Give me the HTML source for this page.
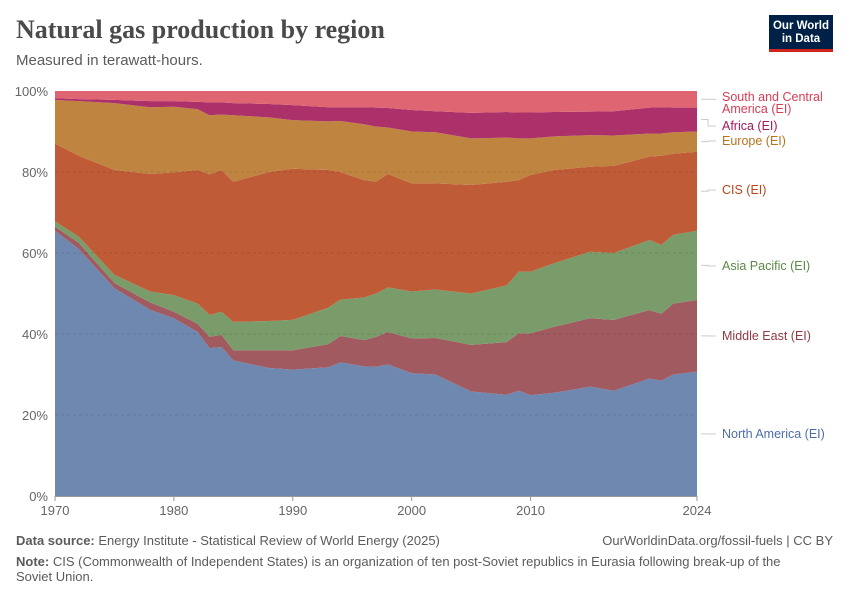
<!DOCTYPE html>
<html><head><meta charset="utf-8">
<style>
body{margin:0;background:#fff;font-family:"Liberation Sans",sans-serif;}
#wrap{position:relative;width:850px;height:600px;overflow:hidden;}
.t{position:absolute;white-space:nowrap;}
</style></head><body>
<div id="wrap">
<div class="t" style="left:16px;top:15px;font-family:'Liberation Serif',serif;font-size:26px;font-weight:bold;color:#4a4a4a;">Natural gas production by region</div>
<div class="t" style="left:16px;top:52px;font-size:15px;color:#5b5b5b;">Measured in terawatt-hours.</div>
<div style="position:absolute;left:769px;top:15px;width:64px;height:37px;background:#002147;border-bottom:3px solid #ce261e;box-sizing:border-box;color:#fff;font-size:11.5px;font-weight:bold;text-align:center;line-height:13px;padding-top:5px;">Our World<br>in Data</div>
<svg id="chart" width="850" height="600" style="position:absolute;left:0;top:0"></svg>
<div class="t" style="left:16px;top:533px;font-size:13px;color:#5b5b5b;"><b>Data source:</b> Energy Institute - Statistical Review of World Energy (2025)</div>
<div class="t" style="right:17px;top:533px;font-size:13px;color:#5b5b5b;">OurWorldinData.org/fossil-fuels | CC BY</div>
<div class="t" style="left:16px;top:554px;font-size:13px;color:#5b5b5b;white-space:normal;width:800px;line-height:15px;"><b>Note:</b> CIS (Commonwealth of Independent States) is an organization of ten post-Soviet republics in Eurasia following break-up of the Soviet Union.</div>
</div>
<script>
const years=[1970,1972,1975,1978,1980,1982,1983,1984,1985,1988,1990,1993,1994,1996,1997,1998,2000,2002,2005,2008,2009,2010,2012,2015,2017,2020,2021,2022,2024];
const northAmerica=[65.5,61,51.3,46,43.9,40.5,36.5,36.8,33.5,31.6,31.2,31.8,33,32,31.9,32.5,30.3,30,25.8,25,26,24.9,25.5,27,26,29,28.5,30,30.7];
const middleEast=[1.0,1.5,1.3,1.8,1.6,2.0,2.8,3.0,2.5,4.4,4.8,5.7,6.5,6.5,7.4,8,8.6,9,11.5,13,14.2,15.3,16.3,16.9,17.5,16.9,16.5,17.5,17.7];
const asiaPacific=[1.3,1.5,2.0,2.7,4.1,5.0,5.4,5.7,7.0,7.2,7.5,9.0,9.0,10.5,10.7,11,11.6,12,12.7,14,15.2,15.2,15.7,16.4,16.5,17.3,17,17,17.1];
const cis=[19.2,20,25.9,29,30.3,33,34.7,35,34.6,36.8,37.3,34,31.5,29,27.6,28,26.7,26.2,26.8,25.6,22.6,23.9,23,21,21.5,20.6,22,20,19.5];
const europe=[10.8,13.5,16.5,16.5,16.2,15,14.6,13.7,16.4,13.5,12,12,12.6,13.8,13.6,11.5,12.8,12.6,11.5,10.9,10.3,9,8.3,7.8,7.5,5.7,5.5,5.3,5];
const africa=[0.4,0.5,0.8,1.5,1.4,1.8,3.2,3.0,3.0,3.3,3.7,3.5,3.4,4.2,4.7,4.8,5.3,5.2,6.3,6.3,6.4,6.4,6,5.8,6,6.4,6.5,6.1,5.9];
const southCentralAmerica=[1.8,2,2.2,2.5,2.5,2.7,2.8,2.8,3.0,3.2,3.5,4,4,4,4.1,4.2,4.7,5,5.4,5.2,5.3,5.3,5.2,5.1,5,4.1,4,4.1,4.1];
const seriesNames=["North America (EI)","Middle East (EI)","Asia Pacific (EI)","CIS (EI)","Europe (EI)","Africa (EI)","South and Central America (EI)"];
const yTicks=[0,20,40,60,80,100];
const xTicks=[1970,1980,1990,2000,2010,2024];

const series=[northAmerica,middleEast,asiaPacific,cis,europe,africa,southCentralAmerica];
const fills=["#6f88af","#a05a60","#7a9c6b","#c05b37","#c08441","#ac3069","#e06573"];
const lblColors=["#4c6fa8","#8f3a45","#5a8a48","#b8451c","#b9731f","#a3195e","#d63d54"];
const slugs=["north-america","middle-east","asia-pacific","cis","europe","africa","south-central-america"];
const X0=55,X1=697,Y0=496,Y1=91;
const sx=y=>X0+(y-years[0])/(years[years.length-1]-years[0])*(X1-X0);
const sy=v=>Y0-v/100*(Y0-Y1);
const NS="http://www.w3.org/2000/svg";
const svg=document.getElementById('chart');
function mk(t,a){const e=document.createElementNS(NS,t);for(const k in a)e.setAttribute(k,a[k]);svg.appendChild(e);return e;}
const cum=[];let base=years.map(()=>0);
series.forEach((s,i)=>{
  const top=years.map((_,j)=>{const tot=series.reduce((a,ss)=>a+ss[j],0);return base[j]+s[j]/tot*100;});
  let d="M"+years.map((y,j)=>sx(y)+","+sy(top[j])).join("L");
  for(let j=years.length-1;j>=0;j--)d+="L"+sx(years[j])+","+sy(base[j]);
  const p=mk('path',{d:d+"Z",fill:fills[i]});
  
  
  cum.push({b:base[base.length-1],t:top[top.length-1]});
  base=top;
});
yTicks.forEach(v=>{
  if(v>0&&v<100){const l=mk('line',{x1:X0,x2:X1,y1:sy(v),y2:sy(v),stroke:"#000","stroke-opacity":0.12,"stroke-dasharray":"3,3"});
  
  }
  const t=mk('text',{x:48,y:sy(v)+5,"text-anchor":"end","font-size":13,fill:"#666","font-family":"Liberation Sans, sans-serif"});
  t.textContent=v+"%";
  
  
});
const ax=mk('line',{x1:X0,x2:X1,y1:Y0+0.5,y2:Y0+0.5,stroke:"#999"});


xTicks.forEach(y=>{
  const tk=mk('line',{x1:sx(y),x2:sx(y),y1:Y0,y2:Y0+5,stroke:"#999"});
  
  
  const t=mk('text',{x:sx(y),y:Y0+19,"text-anchor":"middle","font-size":13,fill:"#666","font-family":"Liberation Sans, sans-serif"});
  t.textContent=y;
  
  
});
const lblY=[438,340,270,194,145,130,null];
cum.forEach((c,i)=>{
  const mid=sy((c.b+c.t)/2);
  if(i===6){
    const t=mk('text',{x:722,y:101,"font-size":12.5,fill:lblColors[i],"font-family":"Liberation Sans, sans-serif"});
    t.textContent="South and Central";
    
    
    const t2=mk('text',{x:722,y:113,"font-size":12.5,fill:lblColors[i],"font-family":"Liberation Sans, sans-serif"});
    t2.textContent="America (EI)";
    
    
    const ln=mk('path',{d:`M701,${mid}H716`,stroke:"#ccc",fill:"none"});
    
    
    return;
  }
  const ly=lblY[i];
  const ln=mk('path',{d:`M701,${mid}H708V${ly-4}H716`,stroke:"#ccc",fill:"none"});
  
  
  const t=mk('text',{x:722,y:ly,"font-size":12.5,fill:lblColors[i],"font-family":"Liberation Sans, sans-serif"});
  t.textContent=seriesNames[i];
  
  
});
</script>
</body></html>
